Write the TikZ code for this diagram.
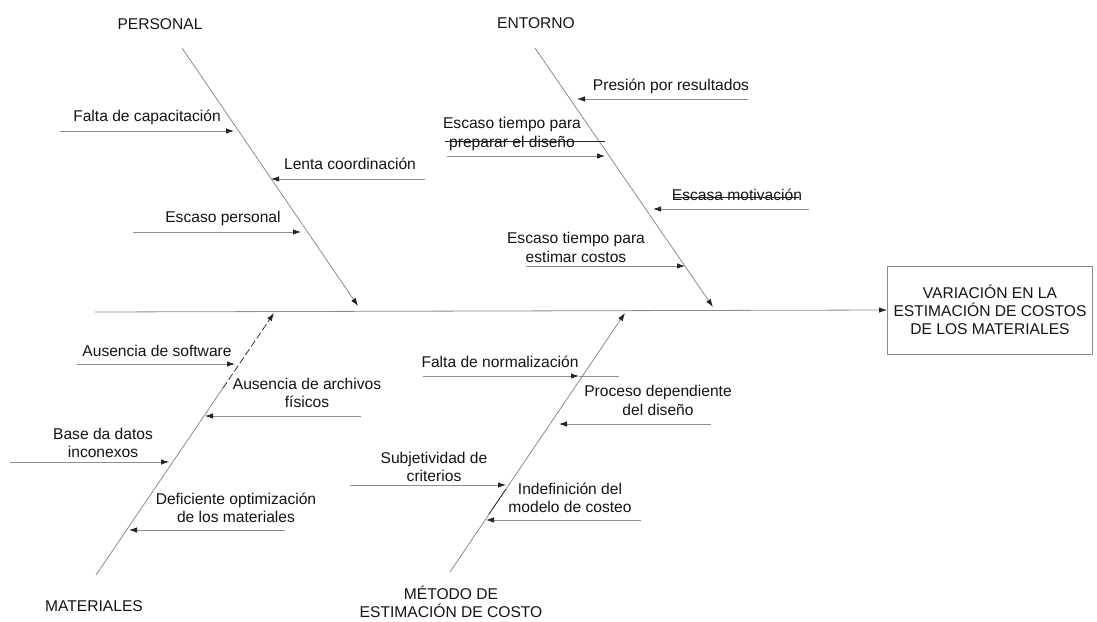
\documentclass[tikz,border=0pt]{standalone}
\usepackage{fontspec}
\setmainfont{Liberation Sans}
\usetikzlibrary{arrows.meta}
\begin{document}
\begin{tikzpicture}[x=1pt,y=-1pt,
  ln/.style={draw=black!45, line width=0.8pt},
  arr/.style={ln, -{Latex[length=8pt,width=5.5pt,color=black!85]}},
  lbl/.style={font=\fontsize{15.6}{18.5}\selectfont, text=black!92, inner sep=0pt, align=center},
  cat/.style={lbl},
  dark/.style={draw=black!85, line width=0.9pt}]
\useasboundingbox (0,0) rectangle (1097,621);

% effect box and spine
\node[draw=black!45, line width=0.8pt, minimum width=205pt, minimum height=88pt, inner sep=0pt,
      font=\fontsize{15.6}{18}\selectfont, align=center, text=black!92] (eff) at (990,310)
  {VARIACIÓN EN LA\\ESTIMACIÓN DE COSTOS\\DE LOS MATERIALES};
\coordinate (spL) at (95,312);
\draw[arr] (spL) -- (eff.west);

% category labels
\node[cat] (cP) at (160,24) {PERSONAL};
\node[cat] (cE) at (536,23) {ENTORNO};
\node[cat] (cM) at (94,606) {MATERIALES};
\node[cat] (cT) at (451,602) {MÉTODO DE\\ESTIMACIÓN DE COSTO};

% main bones
\coordinate (pA) at (182,48);  \coordinate (pB) at (358,306);
\coordinate (eA) at (535,48);  \coordinate (eB) at (713,307);
\coordinate (mA) at (96,575);  \coordinate (mD) at (223,388); \coordinate (mB) at (274,313);
\coordinate (tA) at (450,572); \coordinate (tB) at (625,313);
\draw[arr] (pA) -- (pB);
\draw[arr] (eA) -- (eB);
\draw[ln] (mA) -- (mD);
\draw[arr, draw=black!80, dash pattern=on 7pt off 3pt] (mD) -- (mB);
\draw[arr] (tA) -- (tB);
\coordinate (tDa) at (506,489); \coordinate (tDb) at (489,514);
\draw[dark, line width=0.7pt] (tDa) -- (tDb);

% PERSONAL causes
\node[lbl] (p1) at (147,117) {Falta de capacitación};
\coordinate (p1a) at (60,131);  \coordinate (p1b) at (234,131);
\draw[arr] (p1a) -- (p1b);
\node[lbl] (p2) at (350,164) {Lenta coordinación};
\coordinate (p2a) at (425,179); \coordinate (p2b) at (271,179);
\draw[arr] (p2a) -- (p2b);
\node[lbl] (p3) at (223,218) {Escaso personal};
\coordinate (p3a) at (133,232); \coordinate (p3b) at (301,232);
\draw[arr] (p3a) -- (p3b);

% ENTORNO causes
\node[lbl] (e1) at (671,86) {Presión por resultados};
\coordinate (e1a) at (748,99);  \coordinate (e1b) at (577,99);
\draw[arr] (e1a) -- (e1b);
\node[lbl] (e2) at (512,134) {Escaso tiempo para\\preparar el diseño};
\coordinate (e2s) at (445,141); \coordinate (e2t) at (605,141);
\draw[dark] (e2s) -- (e2t);
\coordinate (e2a) at (447,156); \coordinate (e2b) at (605,156);
\draw[arr] (e2a) -- (e2b);
\node[lbl] (e3) at (737,195) {Escasa motivación};
\coordinate (e3s) at (673,197); \coordinate (e3t) at (799,197);
\draw[dark, line width=0.7pt] (e3s) -- (e3t);
\coordinate (e3a) at (809,209); \coordinate (e3b) at (653,209);
\draw[arr] (e3a) -- (e3b);
\node[lbl] (e4) at (576,247.5) {Escaso tiempo para\\estimar costos};
\coordinate (e4a) at (526,266); \coordinate (e4b) at (685,266);
\draw[arr] (e4a) -- (e4b);

% MATERIALES causes
\node[lbl] (m1) at (157,351) {Ausencia de software};
\coordinate (m1a) at (77,364);  \coordinate (m1b) at (235,364);
\draw[arr] (m1a) -- (m1b);
\node[lbl] (m2) at (307,393) {Ausencia de archivos\\físicos};
\coordinate (m2a) at (361,416); \coordinate (m2b) at (205,416);
\draw[arr] (m2a) -- (m2b);
\node[lbl] (m3) at (103,443) {Base da datos\\inconexos};
\coordinate (m3a) at (10,462);  \coordinate (m3b) at (169,462);
\draw[arr] (m3a) -- (m3b);
\node[lbl] (m4) at (236,508) {Deficiente optimización\\de los materiales};
\coordinate (m4a) at (285,530); \coordinate (m4b) at (129,530);
\draw[arr] (m4a) -- (m4b);

% METODO causes
\node[lbl] (t1) at (500,362) {Falta de normalización};
\coordinate (t1a) at (423,376); \coordinate (t1b) at (579,376); \coordinate (t1c) at (619,376);
\draw[arr] (t1a) -- (t1b);
\draw[ln] (t1b) -- (t1c);
\node[lbl] (t2) at (658,400.5) {Proceso dependiente\\del diseño};
\coordinate (t2a) at (711,424); \coordinate (t2b) at (559,424);
\draw[arr] (t2a) -- (t2b);
\node[lbl] (t3) at (434,467) {Subjetividad de\\criterios};
\coordinate (t3a) at (350,485); \coordinate (t3b) at (506,485);
\draw[arr] (t3a) -- (t3b);
\node[lbl] (t4) at (570,498) {Indefinición del\\modelo de costeo};
\coordinate (t4a) at (641,520); \coordinate (t4b) at (486,520);
\draw[arr] (t4a) -- (t4b);
\end{tikzpicture}
\end{document}
